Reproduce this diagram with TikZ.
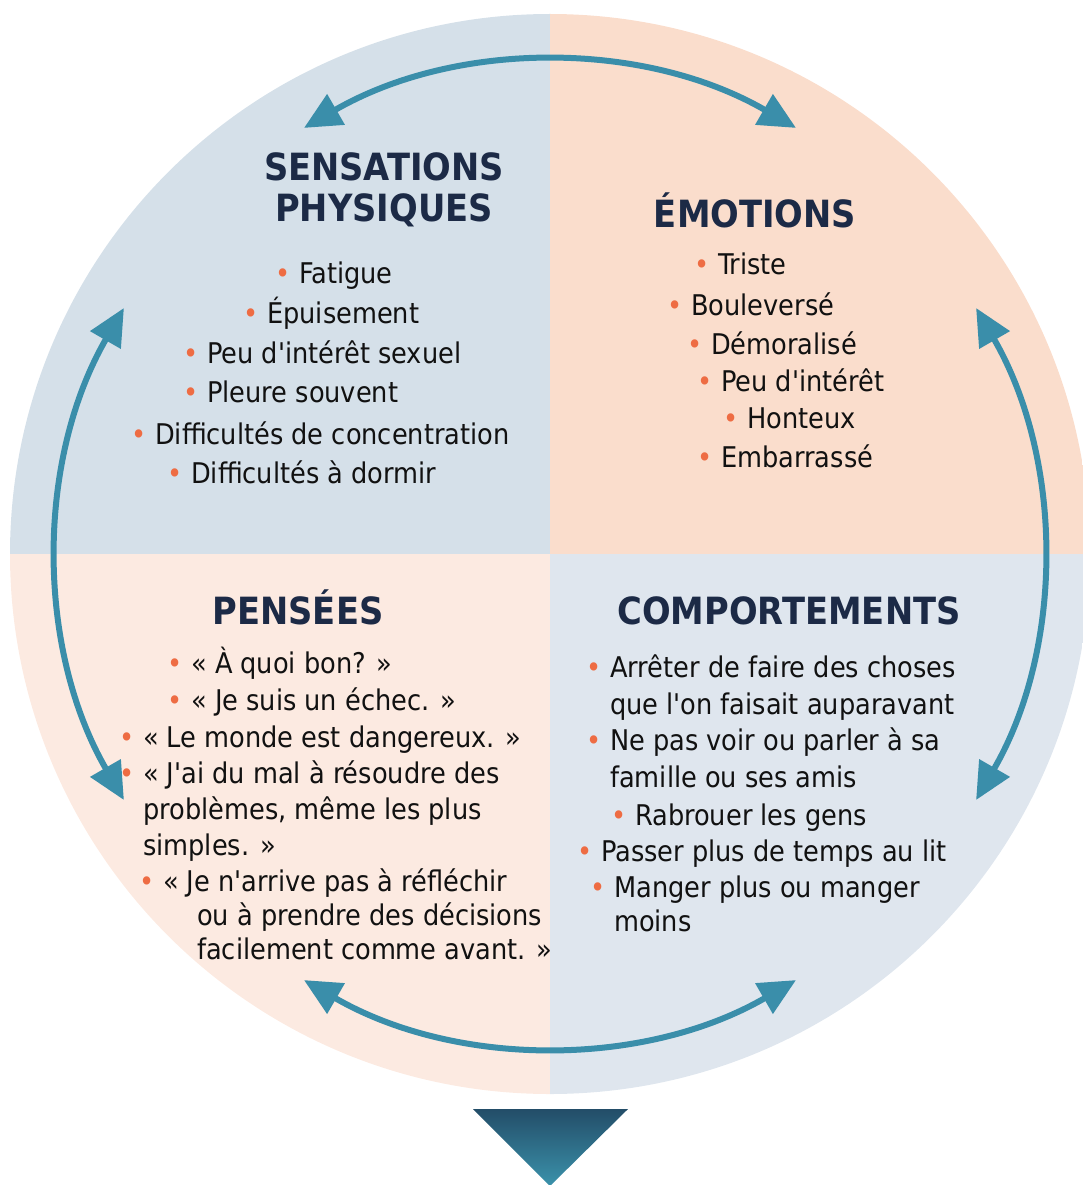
\documentclass[tikz,border=0pt]{standalone}
\usepackage{fontspec}
\setmainfont{DejaVu Sans Condensed}[Ligatures=TeXOff]
\usetikzlibrary{arrows.meta, positioning}

\definecolor{sensbg}{HTML}{D5E0E9}
\definecolor{emobg}{HTML}{FADDCC}
\definecolor{pensbg}{HTML}{FCEAE1}
\definecolor{compbg}{HTML}{DFE6EE}
\definecolor{loopteal}{HTML}{3A8EAA}
\definecolor{headc}{HTML}{1C2A46}
\definecolor{dotc}{HTML}{EE6C43}
\definecolor{inkc}{HTML}{111111}
\definecolor{tritop}{HTML}{234D68}
\definecolor{tribot}{HTML}{3B92AB}

\newcommand\bul{\llap{\textcolor{dotc}{•}\hspace{9pt}}} % orange bullet hanging left of the text

\tikzset{
    heading/.style={font=\fontsize{37.5}{41}\selectfont\bfseries, text=headc, inner sep=0pt, anchor=base, align=center}, % quadrant titles, base = last line
    item/.style={font=\fontsize{28.5}{36}\selectfont, text=inkc, inner sep=0pt, anchor=base west, align=left}, % list entries, base = last line
    cyclearrow/.style={draw=loopteal, line width=6pt, {Triangle[length=37pt,width=34pt]}-{Triangle[length=37pt,width=34pt]}}, % the round arrows
}

\begin{document}
\begin{tikzpicture}[x=1pt, y=-1pt]
    \useasboundingbox (0,0) rectangle (1083,1185);
    \coordinate (ctr) at (550,554);

    % the four quarters of the disc
    \begin{scope}
        \clip (ctr) circle[radius=540pt];
        \fill[sensbg] (0,0) rectangle (ctr);
        \fill[emobg] (550,0) rectangle (1100,554);
        \fill[pensbg] (0,554) rectangle (550,1100);
        \fill[compbg] (ctr) rectangle (1100,1100);
    \end{scope}

    % round arrows between the quarters
    \coordinate (top-l) at ([shift={(120:492pt)}]ctr);
    \coordinate (left-t) at ([shift={(150:492pt)}]ctr);
    \coordinate (right-t) at ([shift={(30:492pt)}]ctr);
    \coordinate (bot-l) at ([shift={(240:492pt)}]ctr);
    \draw[cyclearrow] (top-l) arc[start angle=120, end angle=60, radius=492pt];
    \draw[cyclearrow] (left-t) arc[start angle=150, end angle=210, radius=492pt];
    \draw[cyclearrow] (right-t) arc[start angle=30, end angle=-30, radius=492pt];
    \draw[cyclearrow] (bot-l) arc[start angle=240, end angle=300, radius=492pt];

    % headings
    \node[heading] (hsens) at (384,222) {SENSATIONS\\PHYSIQUES};
    \node[heading] (hemo) at (755,227) {ÉMOTIONS};
    \node[heading] (hpens) at (298,624) {PENSÉES};
    \node[heading] (hcomp) at (789,624) {COMPORTEMENTS};

    % sensations physiques
    \node[item] (sens1) at (299,283) {\bul Fatigue};
    \node[item] (sens2) at (267,323) {\bul Épuisement};
    \node[item] (sens3) at (207,363) {\bul Peu d'intérêt sexuel};
    \node[item] (sens4) at (207,402) {\bul Pleure souvent};
    \node[item] (sens5) at (155,444) {\bul Difficultés de concentration};
    \node[item] (sens6) at (191,483) {\bul Difficultés à dormir};

    % emotions
    \node[item] (emo1) at (718,274) {\bul Triste};
    \node[item] (emo2) at (691,315) {\bul Bouleversé};
    \node[item] (emo3) at (711,354) {\bul Démoralisé};
    \node[item] (emo4) at (721,391) {\bul Peu d'intérêt};
    \node[item] (emo5) at (747,428) {\bul Honteux};
    \node[item] (emo6) at (721,467) {\bul Embarrassé};

    % pensees
    \node[item] (pens1) at (191,673) {\bul « À quoi bon? »};
    \node[item] (pens2) at (191,710) {\bul « Je suis un échec. »};
    \node[item] (pens3) at (143,747) {\bul « Le monde est dangereux. »};
    \node[item] (pens4) at (143,855) {\bul « J'ai du mal à résoudre des\\problèmes, même les plus\\simples. »};
    \node[item, font=\fontsize{28.5}{34}\selectfont] (pens5) at (163,959) {\bul « Je n'arrive pas à réfléchir\\\hspace*{34pt}ou à prendre des décisions\\\hspace*{34pt}facilement comme avant. »};

    % comportements
    \node[item, font=\fontsize{28.5}{37}\selectfont] (comp1) at (610,714) {\bul Arrêter de faire des choses\\que l'on faisait auparavant};
    \node[item, font=\fontsize{28.5}{37}\selectfont] (comp2) at (610,787) {\bul Ne pas voir ou parler à sa\\famille ou ses amis};
    \node[item] (comp3) at (635,825) {\bul Rabrouer les gens};
    \node[item] (comp4) at (601,861) {\bul Passer plus de temps au lit};
    \node[item, font=\fontsize{28.5}{34}\selectfont] (comp5) at (614,931) {\bul Manger plus ou manger\\moins};

    % pointer below the disc
    \shade[top color=tritop, bottom color=tribot] (473,1109) -- (628,1109) -- (550,1186) -- cycle;
\end{tikzpicture}
\end{document}
